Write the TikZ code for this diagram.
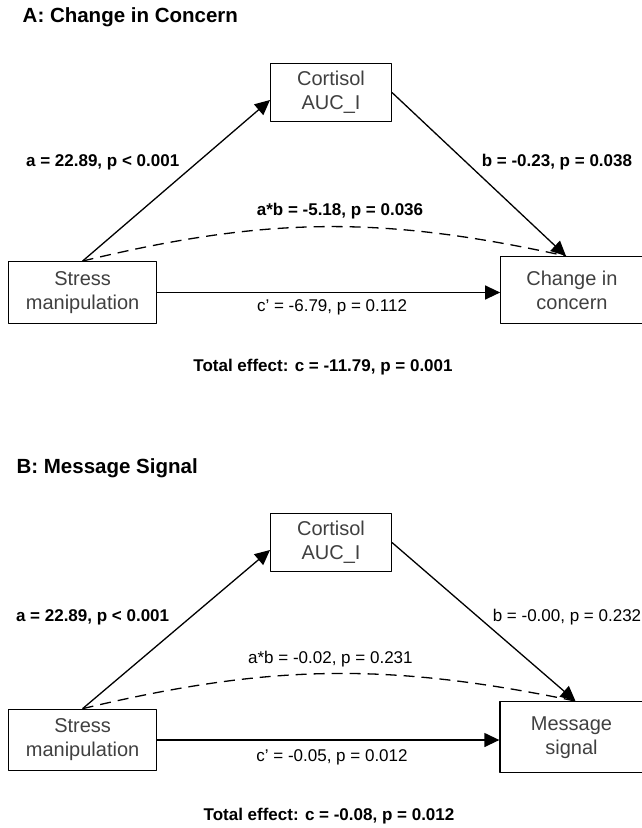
\documentclass[tikz,border=0pt]{standalone}
\usepackage{fontspec}
\setmainfont{Liberation Sans}
\usetikzlibrary{arrows.meta}
\definecolor{boxText}{HTML}{404040}

\begin{document}
\begin{tikzpicture}[
  x=1pt, y=-1pt,
  line join=round,
  >={Triangle[length=15pt,width=14pt]},
  var box/.style={draw=black, line width=1.3pt, text=boxText, align=center,
    inner sep=0pt, font=\fontsize{20}{24}\selectfont},
  path label/.style={inner sep=0pt, text height=.72em, text depth=0pt,
    font=\fontsize{17}{20}\selectfont},
  path label bold/.style={path label, font=\fontsize{17}{20}\selectfont\bfseries},
  panel title/.style={anchor=west, inner sep=0pt, text height=.72em,
    text depth=0pt, font=\fontsize{20.5}{24}\selectfont\bfseries},
  link/.style={draw=black, line width=1.3pt, ->},
  indirect/.style={draw=black, line width=1.3pt, dash pattern=on 11pt off 7pt}
]
\useasboundingbox (0,0) rectangle (641,828);

% Panel A: change in concern.
\begin{scope}[shift={(0,0)}]
  \node[panel title] (titleA) at (22.5,19) {A: Change in Concern};
  \node[var box, minimum width=120.7pt, minimum height=58.4pt] (cortA)
    at (331,92.5) {Cortisol\\AUC\_I};
  \node[var box, minimum width=148.2pt, minimum height=61.6pt] (stressA)
    at (82.6,292.5) {Stress\\manipulation};
  \node[var box, minimum width=142.4pt, minimum height=66.6pt] (changeA)
    at (572,290) {Change in\\concern};
  \coordinate (hitA) at ([xshift=-6pt]changeA.north);
  \draw[link] (stressA.north) -- ([yshift=-7.5pt]cortA.west);
  \draw[link] (cortA.east) -- (hitA);
  \draw[indirect] (stressA.north) to[bend left=13] (hitA);
  \draw[link] (stressA.east) -- (stressA.east -| changeA.west);
  \node[path label bold] (aLabA) at (102.7,163) {a = 22.89, p < 0.001};
  \node[path label bold, anchor=west] (bLabA) at (481.6,163)
    {b = -0.23, p = 0.038};
  \node[path label bold] (abLabA) at (340,212.3) {a*b = -5.18, p = 0.036};
  \node[path label] (cLabA) at (332,308.3) {c’ = -6.79, p = 0.112};
  \node[path label bold] (totalA) at (323,368.3)
    {Total effect: c = -11.79, p = 0.001};
\end{scope}

% Panel B: message signal, same layout one step down.
\begin{scope}[shift={(0,450)}]
  \node[panel title] (titleB) at (16.4,20) {B: Message Signal};
  \node[var box, minimum width=120.7pt, minimum height=58.4pt] (cortB)
    at (331,92.5) {Cortisol\\AUC\_I};
  \node[var box, minimum width=148.2pt, minimum height=61.4pt] (stressB)
    at (82.6,290) {Stress\\manipulation};
  \node[var box, minimum width=143pt, minimum height=71pt] (msgB)
    at (571.5,287.2) {Message\\signal};
  \coordinate (hitB) at ([xshift=4pt]msgB.north);
  \draw[link] (stressB.north) -- ([yshift=-7.5pt]cortB.west);
  \draw[link] (cortB.east) -- (hitB);
  \draw[indirect] (stressB.north) to[bend left=12.5] (hitB);
  \draw[link] (stressB.east) -- (stressB.east -| msgB.west);
  \node[path label bold] (aLabB) at (92.6,168.3) {a = 22.89, p < 0.001};
  \node[path label, anchor=west] (bLabB) at (492.6,168.3)
    {b = -0.00, p = 0.232};
  \node[path label] (abLabB) at (330.4,210) {a*b = -0.02, p = 0.231};
  \node[path label] (cLabB) at (332,308.3) {c’ = -0.05, p = 0.012};
  \node[path label bold] (totalB) at (329,366.7)
    {Total effect: c = -0.08, p = 0.012};
\end{scope}
\end{tikzpicture}
\end{document}
